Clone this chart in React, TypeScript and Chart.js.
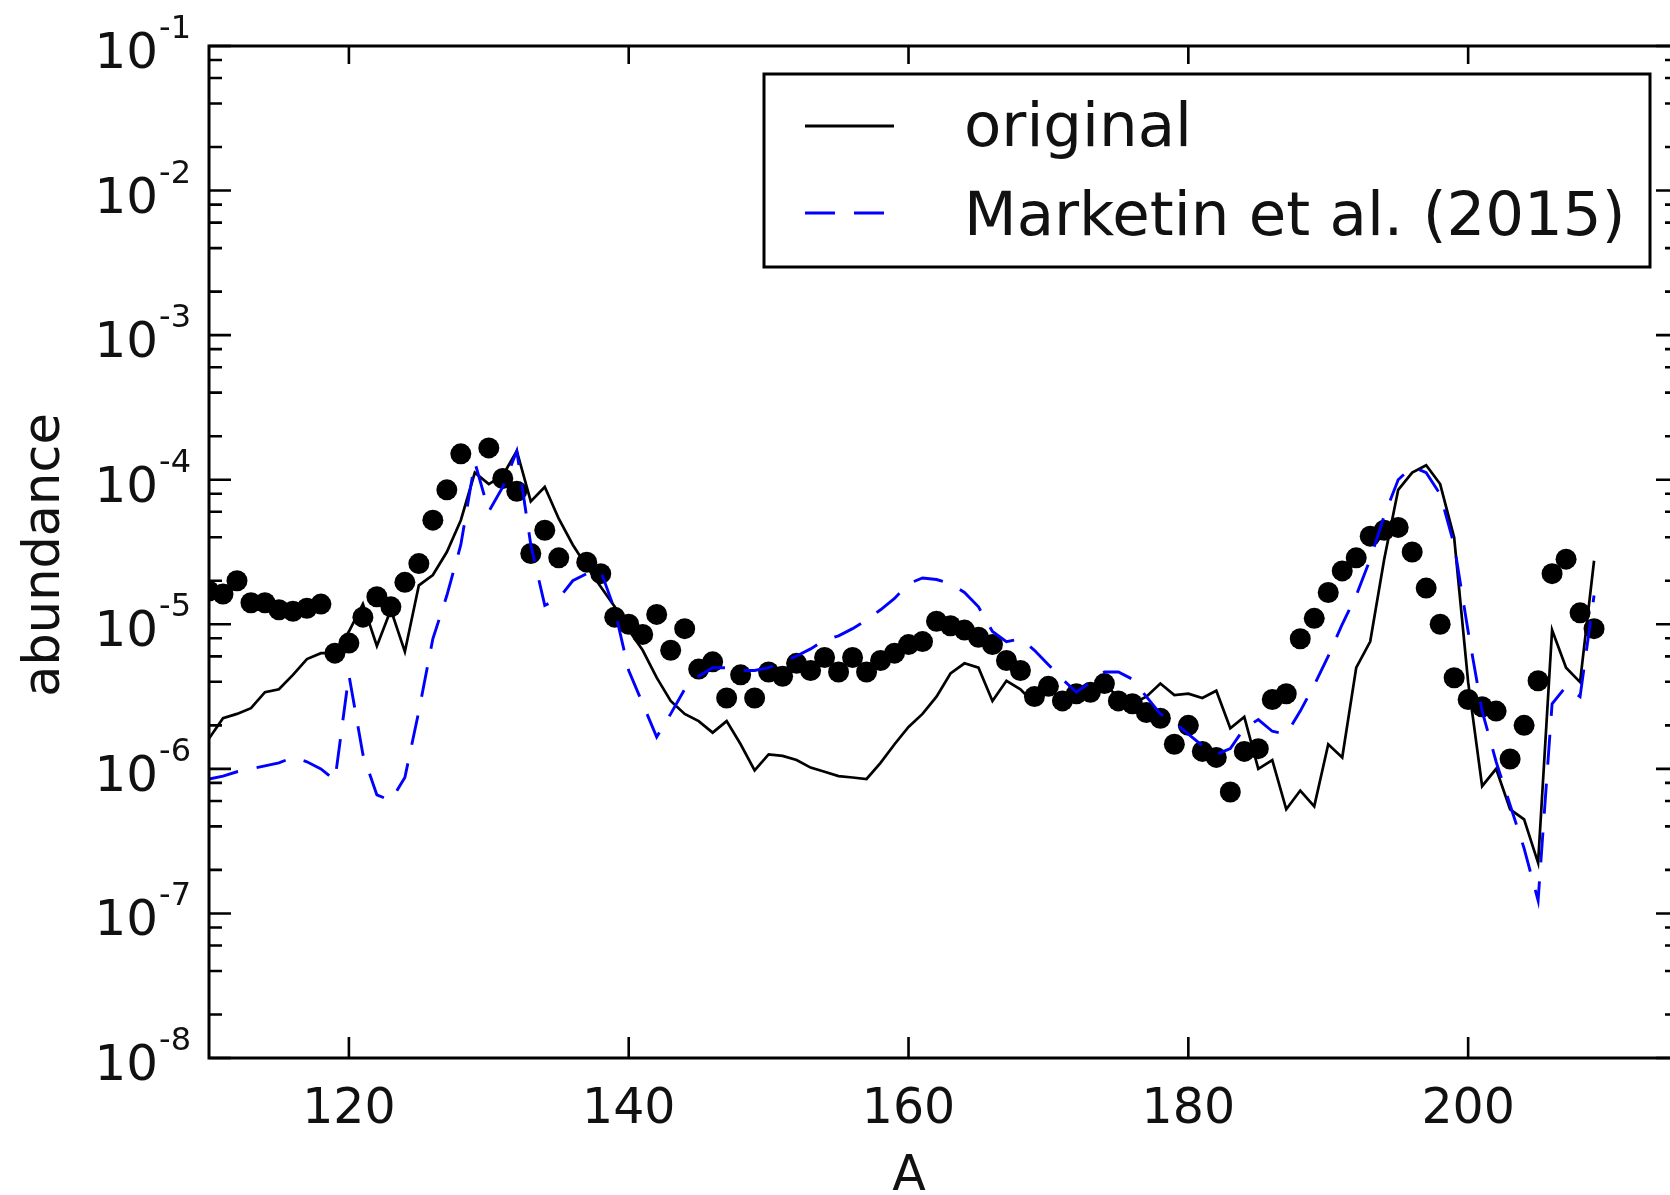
import React, { useEffect, useRef } from "react";
import { Chart, registerables } from "chart.js";

Chart.register(...registerables);

// ---------- data ----------
const massNumbers = [
  110, 111, 112, 113, 114, 115, 116, 117, 118, 119,
  120, 121, 122, 123, 124, 125, 126, 127, 128, 129,
  130, 131, 132, 133, 134, 135, 136, 137, 138, 139,
  140, 141, 142, 143, 144, 145, 146, 147, 148, 149,
  150, 151, 152, 153, 154, 155, 156, 157, 158, 159,
  160, 161, 162, 163, 164, 165, 166, 167, 168, 169,
  170, 171, 172, 173, 174, 175, 176, 177, 178, 179,
  180, 181, 182, 183, 184, 185, 186, 187, 188, 189,
  190, 191, 192, 193, 194, 195, 196, 197, 198, 199,
  200, 201, 202, 203, 204, 205, 206, 207, 208, 209,
];

const originalAbundance = [
  1.62e-6, 2.24e-6, 2.40e-6, 2.63e-6, 3.39e-6, 3.55e-6, 4.47e-6, 5.75e-6, 6.31e-6, 6.31e-6,
  8.91e-6, 1.38e-5, 7.08e-6, 1.26e-5, 6.46e-6, 1.86e-5, 2.19e-5, 3.16e-5, 5.25e-5, 1.12e-4,
  9.33e-5, 1.07e-4, 1.58e-4, 7.08e-5, 8.91e-5, 5.37e-5, 3.55e-5, 2.51e-5, 1.82e-5, 1.32e-5,
  9.12e-6, 6.61e-6, 4.27e-6, 2.95e-6, 2.40e-6, 2.14e-6, 1.78e-6, 2.14e-6, 1.48e-6, 9.77e-7,
  1.26e-6, 1.23e-6, 1.15e-6, 1.02e-6, 9.55e-7, 8.91e-7, 8.71e-7, 8.51e-7, 1.10e-6, 1.48e-6,
  1.95e-6, 2.40e-6, 3.16e-6, 4.57e-6, 5.37e-6, 5.01e-6, 2.95e-6, 4.07e-6, 3.55e-6, 2.82e-6,
  3.55e-6, 3.02e-6, 3.31e-6, 3.63e-6, 3.80e-6, 3.16e-6, 2.82e-6, 3.16e-6, 3.89e-6, 3.24e-6,
  3.31e-6, 3.09e-6, 3.47e-6, 1.91e-6, 2.29e-6, 1.00e-6, 1.15e-6, 5.25e-7, 7.08e-7, 5.50e-7,
  1.48e-6, 1.20e-6, 5.01e-6, 7.59e-6, 2.82e-5, 8.51e-5, 1.12e-4, 1.26e-4, 9.33e-5, 3.98e-5,
  3.98e-6, 7.59e-7, 1.00e-6, 5.25e-7, 4.47e-7, 2.24e-7, 9.12e-6, 5.01e-6, 3.98e-6, 2.75e-5,
];

const marketinAbundance = [
  8.51e-7, 8.91e-7, 9.55e-7, 1.00e-6, 1.05e-6, 1.10e-6, 1.20e-6, 1.12e-6, 1.00e-6, 8.32e-7,
  4.47e-6, 1.26e-6, 6.61e-7, 6.03e-7, 8.71e-7, 2.51e-6, 7.94e-6, 1.58e-5, 3.55e-5, 1.32e-4,
  6.03e-5, 8.91e-5, 1.58e-4, 3.55e-5, 1.35e-5, 1.51e-5, 2.00e-5, 2.24e-5, 2.34e-5, 1.26e-5,
  4.79e-6, 2.82e-6, 1.66e-6, 2.40e-6, 3.55e-6, 4.37e-6, 5.01e-6, 5.01e-6, 4.79e-6, 4.79e-6,
  5.01e-6, 5.50e-6, 6.03e-6, 6.76e-6, 7.76e-6, 8.32e-6, 9.33e-6, 1.07e-5, 1.26e-5, 1.51e-5,
  1.91e-5, 2.09e-5, 2.04e-5, 1.91e-5, 1.66e-5, 1.32e-5, 8.91e-6, 7.59e-6, 7.94e-6, 6.61e-6,
  5.25e-6, 4.17e-6, 3.39e-6, 3.98e-6, 4.68e-6, 4.68e-6, 4.17e-6, 3.16e-6, 2.40e-6, 2.09e-6,
  1.74e-6, 1.45e-6, 1.26e-6, 1.38e-6, 1.91e-6, 2.19e-6, 1.82e-6, 1.74e-6, 2.51e-6, 3.80e-6,
  6.03e-6, 1.00e-5, 1.58e-5, 2.82e-5, 5.62e-5, 1.00e-4, 1.23e-4, 1.12e-4, 7.94e-5, 3.55e-5,
  8.91e-6, 2.51e-6, 1.12e-6, 5.62e-7, 2.82e-7, 1.23e-7, 2.82e-6, 3.72e-6, 3.16e-6, 1.58e-5,
];

const solarMass = [
  110, 111, 112, 113, 114, 115, 116, 117, 118, 119,
  120, 121, 122, 123, 124, 125, 126, 127, 128,
  130, 131, 132, 133, 134, 135,
  137, 138, 139, 140, 141, 142, 143, 144, 145, 146,
  147, 148, 149, 150, 151, 152, 153, 154, 155, 156,
  157, 158, 159, 160, 161, 162, 163, 164, 165, 166,
  167, 168, 169, 170, 171, 172, 173, 174, 175, 176,
  177, 178, 179, 180, 181, 182, 183, 184, 185, 186,
  187, 188, 189, 190, 191, 192, 193, 194, 195, 196,
  197, 198, 199, 200, 201, 202, 203, 204, 205, 206,
  207, 208, 209,
];

const solarAbundance = [
  1.70e-5, 1.62e-5, 2.00e-5, 1.41e-5, 1.41e-5, 1.26e-5, 1.23e-5, 1.29e-5, 1.38e-5, 6.31e-6,
  7.41e-6, 1.12e-5, 1.55e-5, 1.32e-5, 1.95e-5, 2.63e-5, 5.25e-5, 8.51e-5, 1.51e-4,
  1.66e-4, 1.02e-4, 8.32e-5, 3.09e-5, 4.47e-5, 2.88e-5,
  2.69e-5, 2.24e-5, 1.12e-5, 1.00e-5, 8.51e-6, 1.17e-5, 6.61e-6, 9.33e-6, 4.90e-6, 5.50e-6,
  3.09e-6, 4.47e-6, 3.09e-6, 4.68e-6, 4.37e-6, 5.37e-6, 4.79e-6, 5.89e-6, 4.68e-6, 5.89e-6,
  4.68e-6, 5.62e-6, 6.31e-6, 7.24e-6, 7.59e-6, 1.05e-5, 9.77e-6, 9.12e-6, 8.13e-6, 7.24e-6,
  5.62e-6, 4.79e-6, 3.16e-6, 3.72e-6, 2.95e-6, 3.31e-6, 3.39e-6, 3.89e-6, 2.95e-6, 2.82e-6,
  2.45e-6, 2.24e-6, 1.48e-6, 2.00e-6, 1.32e-6, 1.20e-6, 6.92e-7, 1.32e-6, 1.38e-6, 3.02e-6,
  3.31e-6, 7.94e-6, 1.10e-5, 1.66e-5, 2.34e-5, 2.88e-5, 4.07e-5, 4.47e-5, 4.68e-5, 3.16e-5,
  1.78e-5, 1.00e-5, 4.27e-6, 3.02e-6, 2.69e-6, 2.51e-6, 1.17e-6, 2.00e-6, 4.07e-6, 2.24e-5,
  2.82e-5, 1.20e-5, 9.33e-6,
];

const xTickValues = [120, 140, 160, 180, 200];
const yTickExponents = [-1, -2, -3, -4, -5, -6, -7, -8];
const yMinorSubs = [2, 4, 6, 8];
const legendLabels = ["original", "Marketin et al. (2015)"];
const xTitle = "A";
const yTitle = "abundance";

// ---------- layout ----------
const CANVAS_W = 1700;
const CANVAS_H = 1195;
const FONT = '"DejaVu Sans", "Liberation Sans", sans-serif';
const TEXT = "#111111";
const BLUE = "#0000ff";
const DASH = [30, 19];

const decorPlugin = {
  id: "decor",
  beforeDraw(chart: any) {
    const ctx = chart.ctx;
    ctx.save();
    ctx.fillStyle = "#ffffff";
    ctx.fillRect(0, 0, chart.width, chart.height);
    ctx.restore();
  },
  afterDraw(chart: any) {
    const ctx: CanvasRenderingContext2D = chart.ctx;
    const { left, right, top, bottom } = chart.chartArea;
    const xs = chart.scales.x;
    const ys = chart.scales.y;
    ctx.save();

    // ticks (inward, on all four sides)
    ctx.strokeStyle = "#000";
    ctx.lineWidth = 2.6;
    ctx.beginPath();
    for (const v of xTickValues) {
      const px = xs.getPixelForValue(v);
      ctx.moveTo(px, bottom);
      ctx.lineTo(px, bottom - 21);
      ctx.moveTo(px, top);
      ctx.lineTo(px, top + 18);
    }
    for (const e of yTickExponents) {
      const py = ys.getPixelForValue(Math.pow(10, e));
      ctx.moveTo(left, py);
      ctx.lineTo(left + 22, py);
      ctx.moveTo(right, py);
      ctx.lineTo(right - 22, py);
    }
    for (const e of yTickExponents) {
      if (e === -1) continue;
      for (const m of yMinorSubs) {
        const py = ys.getPixelForValue(m * Math.pow(10, e));
        ctx.moveTo(left, py);
        ctx.lineTo(left + 13, py);
        ctx.moveTo(right, py);
        ctx.lineTo(right - 13, py);
      }
    }
    ctx.stroke();

    // frame
    ctx.lineWidth = 3;
    ctx.strokeRect(left, top, right - left, bottom - top);

    // y tick labels: 10 with superscript exponent
    ctx.fillStyle = TEXT;
    ctx.textAlign = "left";
    ctx.textBaseline = "alphabetic";
    const labelRight = 191;
    for (const e of yTickExponents) {
      const py = ys.getPixelForValue(Math.pow(10, e));
      const base = "10";
      const sup = "-" + String(Math.abs(e));
      ctx.font = `32px ${FONT}`;
      const supW = ctx.measureText(sup).width;
      ctx.font = `50px ${FONT}`;
      const baseW = ctx.measureText(base).width;
      const bx = labelRight - supW - baseW - 1;
      ctx.fillText(base, bx, py + 22);
      ctx.font = `32px ${FONT}`;
      ctx.fillText(sup, labelRight - supW, py - 8);
    }

    // x tick labels
    ctx.font = `49px ${FONT}`;
    ctx.textAlign = "center";
    for (const v of xTickValues) {
      const px = xs.getPixelForValue(v);
      ctx.fillText(String(v), px, 1123);
    }

    // axis titles
    ctx.font = `49px ${FONT}`;
    ctx.fillText(xTitle, 909, 1190);
    ctx.save();
    ctx.translate(59, 555);
    ctx.rotate(-Math.PI / 2);
    ctx.font = `51px ${FONT}`;
    ctx.textAlign = "center";
    ctx.fillText(yTitle, 0, 0);
    ctx.restore();

    // legend
    const lx0 = 764, ly0 = 74, lx1 = 1650, ly1 = 267;
    ctx.fillStyle = "#fff";
    ctx.fillRect(lx0, ly0, lx1 - lx0, ly1 - ly0);
    ctx.strokeStyle = "#000";
    ctx.lineWidth = 3;
    ctx.strokeRect(lx0, ly0, lx1 - lx0, ly1 - ly0);

    ctx.lineWidth = 2.8;
    ctx.beginPath();
    ctx.moveTo(805, 126);
    ctx.lineTo(894, 126);
    ctx.stroke();

    ctx.strokeStyle = BLUE;
    ctx.setLineDash(DASH);
    ctx.beginPath();
    ctx.moveTo(805, 213);
    ctx.lineTo(894, 213);
    ctx.stroke();
    ctx.setLineDash([]);

    ctx.fillStyle = TEXT;
    ctx.font = `61px ${FONT}`;
    ctx.textAlign = "left";
    ctx.fillText(legendLabels[0], 964, 146);
    ctx.fillText(legendLabels[1], 964, 235);

    ctx.restore();
  },
};

export default function App() {
  const canvasRef = useRef<HTMLCanvasElement | null>(null);

  useEffect(() => {
    const canvas = canvasRef.current;
    if (!canvas) return;

    const originalPoints = massNumbers.map((a, i) => ({ x: a, y: originalAbundance[i] }));
    const marketinPoints = massNumbers.map((a, i) => ({ x: a, y: marketinAbundance[i] }));
    const solarPoints = solarMass.map((a, i) => ({ x: a, y: solarAbundance[i] }));

    const chart = new Chart(canvas, {
      type: "line",
      data: {
        datasets: [
          {
            label: legendLabels[1],
            data: marketinPoints,
            borderColor: BLUE,
            borderWidth: 2.9,
            borderDash: DASH,
            pointRadius: 0,
            tension: 0,
            fill: false,
            order: 0,
            clip: 0,
          },
          {
            label: legendLabels[0],
            data: originalPoints,
            borderColor: "#000000",
            borderWidth: 2.7,
            pointRadius: 0,
            tension: 0,
            fill: false,
            order: 1,
            clip: 0,
          },
          {
            label: "solar r",
            data: solarPoints,
            showLine: false,
            pointRadius: 10.5,
            pointBackgroundColor: "#000000",
            pointBorderWidth: 0,
            pointBorderColor: "#000000",
            order: 2,
            clip: 0,
          },
        ],
      } as any,
      options: {
        animation: false,
        responsive: false,
        devicePixelRatio: 1,
        events: [],
        layout: {
          padding: { left: 209, top: 46, right: CANVAS_W - 1678, bottom: CANVAS_H - 1058 },
        },
        plugins: {
          legend: { display: false },
          tooltip: { enabled: false },
          title: { display: false },
        },
        scales: {
          x: { type: "linear", min: 110, max: 215, display: false },
          y: { type: "logarithmic", min: 1e-8, max: 1e-1, display: false },
        },
      } as any,
      plugins: [decorPlugin],
    });

    return () => {
      chart.destroy();
    };
  }, []);

  return (
    <div
      style={{
        position: "fixed",
        left: 0,
        top: 0,
        width: 1670,
        height: 1195,
        overflow: "hidden",
        background: "#ffffff",
      }}
    >
      <canvas
        ref={canvasRef}
        width={CANVAS_W}
        height={CANVAS_H}
        style={{ width: CANVAS_W, height: CANVAS_H, display: "block" }}
      />
    </div>
  );
}
